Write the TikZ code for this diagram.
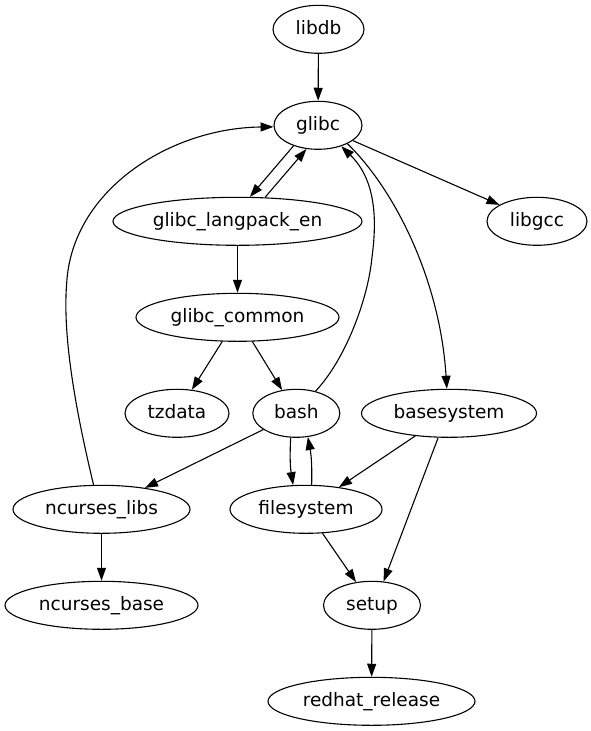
\documentclass[tikz,border=0pt]{standalone}
\usepackage{fontspec}
\setmainfont{DejaVu Sans}
\usetikzlibrary{shapes.geometric,arrows.meta}
\begin{document}
\begin{tikzpicture}[x=1pt,y=-1pt,
  nd/.style={ellipse, draw, line width=1.1pt, minimum height=48pt, inner sep=0pt,
    font=\fontsize{18.5}{22}\selectfont, text height=14.5pt, text depth=3.5pt},
  edge/.style={line width=1.1pt, -{Triangle[length=13pt,width=9pt]}}]
\useasboundingbox (0,0) rectangle (591,731);
\node[nd,minimum width=91pt]  (libdb)        at (318.5,29.3)  {libdb};
\node[nd,minimum width=88pt]  (glibc)        at (318,125.3)   {glibc};
\node[nd,minimum width=249pt] (langpack)     at (237.5,221.3) {glibc\_langpack\_en};
\node[nd,minimum width=100pt] (libgcc)       at (537,221.3)   {libgcc};
\node[nd,minimum width=203pt] (common)       at (237.5,317.3) {glibc\_common};
\node[nd,minimum width=104pt] (tzdata)       at (177,413.3)   {tzdata};
\node[nd,minimum width=87pt]  (bash)         at (296.3,413.3) {bash};
\node[nd,minimum width=175pt] (basesystem)   at (449,413.3)   {basesystem};
\node[nd,minimum width=177pt] (ncurseslibs)  at (101.5,509.3) {ncurses\_libs};
\node[nd,minimum width=152pt] (filesystem)   at (306,509.3)   {filesystem};
\node[nd,minimum width=193pt] (ncursesbase)  at (101.5,605.3) {ncurses\_base};
\node[nd,minimum width=97pt]  (setup)        at (372,605.3)   {setup};
\node[nd,minimum width=207pt] (redhat)       at (371.5,701.3) {redhat\_release};

\draw[edge] (libdb) -- (glibc);
\draw[edge] (glibc.-140.9) -- (langpack.63.8);
\draw[edge] (langpack.41.1) -- (glibc.-116.6);
\draw[edge] (glibc) -- (libgcc);
\draw[edge] (glibc.-32) .. controls (395,190) and (440,280) .. (basesystem.95.5);
\draw[edge] (langpack) -- (common);
\draw[edge] (common) -- (tzdata);
\draw[edge] (common) -- (bash);
\draw[edge] (bash.49) .. controls (345,360) and (368,300) .. (372,257)
                      .. controls (377,220) and (376,180) .. (glibc.-42.3);
\draw[edge] (bash) -- (ncurseslibs);
\draw[edge] (bash.-103) to[bend right=6] (filesystem.118.9);
\draw[edge] (filesystem.77.7) to[bend right=6] (bash.-64.8);
\draw[edge] (basesystem) -- (filesystem);
\draw[edge] (basesystem.-114.8) -- (setup.64.8);
\draw[edge] (ncurseslibs.108) .. controls (78,420) and (62,340) .. (66.7,283)
                      .. controls (72,190) and (170,128) .. (glibc.-178.2);
\draw[edge] (ncurseslibs) -- (ncursesbase);
\draw[edge] (filesystem) -- (setup);
\draw[edge] (setup) -- (redhat);
\end{tikzpicture}
\end{document}
